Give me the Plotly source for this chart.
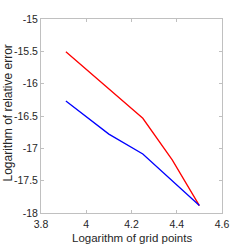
import plotly.graph_objects as go

x_red = [3.91, 4.25, 4.38, 4.5]
y_red = [-15.505, -16.535, -17.18, -17.885]
x_blue = [3.91, 4.10, 4.25, 4.5]
y_blue = [-16.267, -16.78, -17.087, -17.885]

x_ticks = [3.8, 4.0, 4.2, 4.4, 4.6]
x_ticktext = ["3.8", "4", "4.2", "4.4", "4.6"]
y_ticks = [-15, -15.5, -16, -16.5, -17, -17.5, -18]
y_ticktext = ["-15", "-15.5", "-16", "-16.5", "-17", "-17.5", "-18"]

x_title = "Logarithm of grid points"
y_title = "Logarithm of relative error"

fig = go.Figure()
fig.add_trace(go.Scatter(x=x_red, y=y_red, mode="lines",
                         line=dict(color="#ff0000", width=1.3)))
fig.add_trace(go.Scatter(x=x_blue, y=y_blue, mode="lines",
                         line=dict(color="#0000ff", width=1.3)))

axis_common = dict(showgrid=False, zeroline=False, showline=True, mirror="ticks",
                   automargin=False,
                   linecolor="#c0c0c0", linewidth=1, ticks="inside", ticklen=3,
                   tickcolor="#c0c0c0", tickfont=dict(family="Liberation Sans", size=10.5, color="#262626"))

fig.update_xaxes(range=[3.8, 4.6], tickvals=x_ticks, ticktext=x_ticktext,
                 ticklabelstandoff=1, **axis_common)
fig.update_yaxes(range=[-18, -15], tickvals=y_ticks, ticktext=y_ticktext,
                 **axis_common)

fig.add_annotation(text=x_title, xref="paper", yref="paper", x=0.5, y=-0.129,
                   xanchor="center", yanchor="middle", showarrow=False,
                   font=dict(family="Liberation Sans", size=11.5, color="#262626"))
fig.add_annotation(text=y_title, xref="paper", yref="paper", x=-0.182, y=0.513,
                   xanchor="center", yanchor="middle", showarrow=False, textangle=-90,
                   font=dict(family="Liberation Sans", size=12, color="#262626"))

fig.update_layout(template="none", width=245, height=245, showlegend=False,
                  margin=dict(l=41, r=23, t=19, b=32),
                  plot_bgcolor="white", paper_bgcolor="white")

fig.write_html("out.html", config={"displayModeBar": False},
               post_script="document.body.style.margin='0';")
